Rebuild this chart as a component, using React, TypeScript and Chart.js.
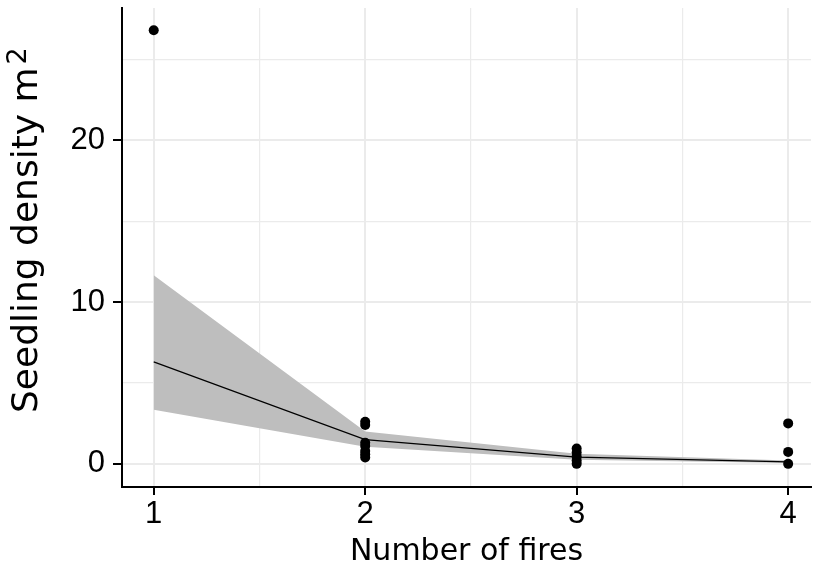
import React, { useEffect, useRef } from "react";
import { Chart, registerables } from "chart.js";

Chart.register(...registerables);

// fitted curve and confidence band
const fireCounts = [1, 2, 3, 4];
const fitMean = [6.3, 1.5, 0.42, 0.12];
const fitLower = [3.35, 1.05, 0.25, 0.05];
const fitUpper = [11.65, 2.0, 0.62, 0.2];

// observations
const obsFires = [1, 2, 2, 2, 2, 2, 2, 2, 3, 3, 3, 3, 3, 4, 4, 4];
const obsDensity = [26.8, 2.6, 2.4, 1.3, 1.1, 0.8, 0.6, 0.4, 0.95, 0.7, 0.45, 0.2, 0, 2.5, 0.74, 0];

// axis ticks and titles
const xTicks = [1, 1.5, 2, 2.5, 3, 3.5, 4];
const yTicks = [0, 5, 10, 15, 20, 25];
const xTitle = "Number of fires";
const yTitleMain = "Seedling density m";
const yTitleSup = "2";

const FONT = "'Liberation Sans', Arial, sans-serif";
const TITLE_FONT = "'DejaVu Sans', 'Liberation Sans', sans-serif";

const yTitlePlugin = {
  id: "yTitle",
  afterDraw(chart: any) {
    const ctx = chart.ctx as CanvasRenderingContext2D;
    const size = 36;
    ctx.save();
    ctx.fillStyle = "#000";
    ctx.translate(37, 413);
    ctx.rotate(-Math.PI / 2);
    ctx.textAlign = "left";
    ctx.textBaseline = "alphabetic";
    ctx.font = `${size}px ${TITLE_FONT}`;
    ctx.fillText(yTitleMain, 0, 0);
    const w = ctx.measureText(yTitleMain).width;
    ctx.font = `${Math.round(size * 0.75)}px ${TITLE_FONT}`;
    ctx.fillText(yTitleSup, w + 3, -11);
    ctx.restore();
  },
};

export default function App() {
  const ref = useRef<HTMLCanvasElement | null>(null);

  useEffect(() => {
    if (!ref.current) return;
    const isMajorX = (v: number) => Number.isInteger(v);
    const isMajorY = (v: number) => v % 10 === 0;
    const toXY = (xs: number[], ys: number[]) => xs.map((x, i) => ({ x, y: ys[i] }));

    const chart = new Chart(ref.current, {
      type: "scatter",
      data: {
        datasets: [
          {
            type: "line",
            label: "lower",
            data: toXY(fireCounts, fitLower),
            borderWidth: 0,
            borderColor: "rgba(0,0,0,0)",
            pointRadius: 0,
            fill: false,
            order: 3,
          },
          {
            type: "line",
            label: "upper",
            data: toXY(fireCounts, fitUpper),
            borderWidth: 0,
            borderColor: "rgba(0,0,0,0)",
            backgroundColor: "#bebebe",
            pointRadius: 0,
            fill: { target: 0 },
            order: 2,
          },
          {
            type: "line",
            label: "fit",
            data: toXY(fireCounts, fitMean),
            borderWidth: 1.2,
            borderColor: "#000",
            pointRadius: 0,
            fill: false,
            order: 1,
          },
          {
            type: "scatter",
            label: "obs",
            data: toXY(obsFires, obsDensity),
            pointRadius: 5,
            pointBackgroundColor: "#000",
            pointBorderWidth: 0,
            borderColor: "#000",
            order: 0,
          },
        ],
      },
      options: {
        animation: false,
        responsive: false,
        devicePixelRatio: 1,
        layout: { padding: { top: 8, left: 0, right: 0, bottom: 0 } },
        plugins: { legend: { display: false }, tooltip: { enabled: false } },
        scales: {
          x: {
            type: "linear",
            min: 0.85,
            max: 4.108,
            afterBuildTicks: (s: any) => {
              s.ticks = xTicks.map((v) => ({ value: v }));
            },
            afterFit: (s: any) => {
              s.height = 83;
              s.paddingLeft = 0;
              s.paddingRight = 0;
            },
            ticks: {
              autoSkip: false,
              maxRotation: 0,
              padding: 1,
              color: "#000",
              font: { family: FONT, size: 31 },
              callback: (v: any) => (isMajorX(Number(v)) ? String(v) : ""),
            },
            grid: {
              color: "#ebebeb",
              lineWidth: (c: any) => (c.tick && isMajorX(c.tick.value) ? 2 : 1.2),
              tickColor: (c: any) => (c.tick && isMajorX(c.tick.value) ? "#000" : "rgba(0,0,0,0)"),
              tickLength: 8,
              tickWidth: 2,
            },
            border: { display: true, color: "#000", width: 2 },
            title: {
              display: true,
              text: xTitle,
              color: "#000",
              font: { family: TITLE_FONT, size: 30 },
              padding: { top: 0, bottom: 0 },
            },
          },
          y: {
            type: "linear",
            min: -1.43,
            max: 28.17,
            afterBuildTicks: (s: any) => {
              s.ticks = yTicks.map((v) => ({ value: v }));
            },
            afterFit: (s: any) => {
              s.width = 122;
              s.paddingTop = 0;
              s.paddingBottom = 0;
            },
            ticks: {
              autoSkip: false,
              padding: 8,
              color: "#000",
              font: { family: FONT, size: 31 },
              callback: (v: any) => (isMajorY(Number(v)) ? String(v) : ""),
            },
            grid: {
              color: "#ebebeb",
              lineWidth: (c: any) => (c.tick && isMajorY(c.tick.value) ? 2 : 1.2),
              tickColor: (c: any) => (c.tick && isMajorY(c.tick.value) ? "#000" : "rgba(0,0,0,0)"),
              tickLength: 9,
              tickWidth: 2,
            },
            border: { display: true, color: "#000", width: 2 },
            title: { display: false },
          },
        },
      },
      plugins: [yTitlePlugin],
    } as any);
    return () => chart.destroy();
  }, []);

  return (
    <div style={{ position: "absolute", left: 0, top: 0, width: 816, height: 570, background: "#fff" }}>
      <canvas ref={ref} width={816} height={570} style={{ display: "block" }} />
    </div>
  );
}
